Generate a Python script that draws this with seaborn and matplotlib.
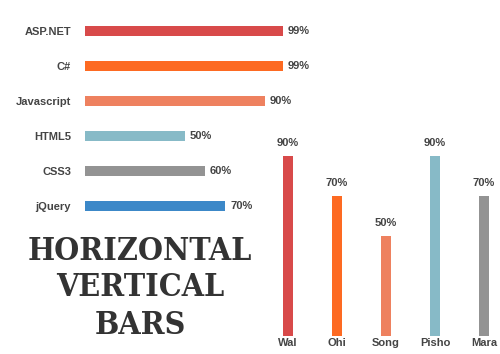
import seaborn as sns
import matplotlib.pyplot as plt

skills = ["ASP.NET", "C#", "Javascript", "HTML5", "CSS3", "jQuery"]
skill_values = [99, 99, 90, 50, 60, 70]
skill_colors = ["#d84a4a", "#fd6a22", "#ee815f", "#87bac7", "#939393", "#3c88c8"]

people = ["Wal", "Ohi", "Song", "Pisho", "Mara"]
people_values = [90, 70, 50, 90, 70]
people_colors = ["#d84a4a", "#fd6a22", "#ee815f", "#87bac7", "#939393"]

title_lines = ["HORIZONTAL", "VERTICAL", "BARS"]

sns.set_style("white")
plt.rcParams['font.family'] = ['Liberation Sans', 'DejaVu Sans']
text_color = "#444444"

fig = plt.figure(figsize=(5, 3.54), dpi=100)

# horizontal bars
ax1 = fig.add_axes([0.17, 0.3686, 0.4, 0.593])
sns.barplot(x=skill_values, y=skills, hue=skills, palette=skill_colors,
            width=0.286, legend=False, ax=ax1, saturation=1, linewidth=0)
ax1.set_xlim(0, 100)
ax1.set_ylim(5.5, -0.5)
sns.despine(ax=ax1, left=True, bottom=True)
ax1.set_xticks([])
ax1.tick_params(axis="y", length=0, pad=10, labelsize=8, labelcolor=text_color)
for lbl in ax1.get_yticklabels():
    lbl.set_fontweight("bold")
ax1.set_xlabel("")
ax1.set_ylabel("")
for i, v in enumerate(skill_values):
    ax1.text(v + 2.5, i, f"{v}%", va="center", ha="left", fontsize=8,
             fontweight="bold", color=text_color)

# vertical bars
ax2 = fig.add_axes([0.527, 0.0508, 0.49, 0.565])
sns.barplot(x=people, y=people_values, hue=people, palette=people_colors,
            width=0.2, legend=False, ax=ax2, saturation=1, linewidth=0)
ax2.set_ylim(0, 100)
ax2.set_xlim(-0.5, 4.5)
sns.despine(ax=ax2, left=True, bottom=True)
ax2.set_yticks([])
ax2.tick_params(axis="x", length=0, pad=1.5, labelsize=8, labelcolor=text_color)
for lbl in ax2.get_xticklabels():
    lbl.set_fontweight("bold")
ax2.set_xlabel("")
ax2.set_ylabel("")
for i, v in enumerate(people_values):
    ax2.text(i, v + 4, f"{v}%", va="bottom", ha="center", fontsize=8,
             fontweight="bold", color=text_color, clip_on=False)

# big title
for k, line in enumerate(title_lines):
    fig.text(0.28, 1 - (251 + 37 * k) / 354, line, ha="center", va="center",
             fontsize=23, fontweight="bold", family="DejaVu Serif",
             fontstretch="condensed", color="#333333")

fig.savefig("out.png", dpi=100)
